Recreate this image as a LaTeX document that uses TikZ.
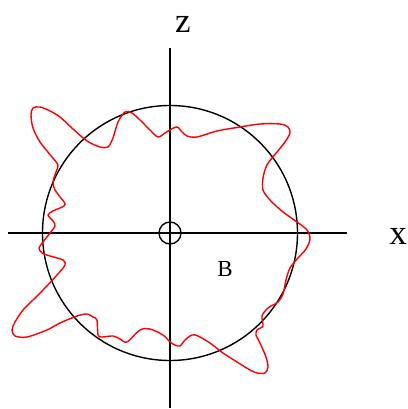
\documentclass[tikz,border=0pt]{standalone}
\usepackage{fontspec}
\setmainfont{Liberation Serif}
\begin{document}
\begin{tikzpicture}[x=1pt,y=-1pt,
  axis/.style={line width=1.4pt,black},
  ring/.style={circle,draw=black,line width=1.4pt,inner sep=0pt},
  curve/.style={red,line width=1.4pt,line join=round},
  biglabel/.style={inner sep=0pt,font=\fontsize{35}{37}\selectfont},
  smalllabel/.style={inner sep=0pt,font=\fontsize{23}{26}\selectfont}]
\useasboundingbox (0,0) rectangle (407,409);
\coordinate (xl) at (8,233);
\coordinate (xr) at (347,233);
\coordinate (zt) at (170,48);
\coordinate (zb) at (170,408);
\node[ring,minimum size=255pt] (big) at (170,233) {};
\node[ring,minimum size=22pt] (origin) at (170,233) {};
\draw[axis] (xl) -- (xr);
\draw[axis] (zt) -- (zb);
\node[biglabel] (zlab) at (183,24) {z};
\node[biglabel] (xlab) at (398,236) {x};
\node[smalllabel] (blab) at (225,269) {B};
\draw[curve] plot[smooth cycle,tension=0.5] coordinates {
(170,130) (177,127) (182,132) (187,136) (197,137) (217,131) (240,127) (260,124)
(280,124) (288,127) (290,133) (285,142) (277,152) (267,165) (263,178) (263,190)
(270,200) (283,212) (297,222) (307,230) (310,239) (306,249) (298,258) (290,268)
(286,280) (283,294) (278,302) (268,308) (262,316) (263,326) (257,330) (256,335)
(260,343) (266,357) (268,367) (265,373) (257,373) (250,370) (237,362) (223,353)
(210,343) (198,336) (192,335) (185,340) (180,346) (175,345) (170,342) (163,335)
(150,329) (140,330) (127,342) (120,339) (113,336) (102,337) (98,335) (97,320)
(93,317) (87,314) (77,316) (60,323) (47,330) (27,337) (15,336) (12,330)
(15,322) (23,310) (33,300) (43,290) (57,275) (65,265) (63,260) (50,256)
(42,253) (39,248) (43,242) (50,233) (55,226) (53,221) (48,215) (53,211)
(65,205) (60,197) (55,190) (53,182) (56,172) (58,165) (52,157) (40,142)
(33,128) (31,115) (33,108) (40,107) (50,111) (60,117) (73,129) (87,141)
(100,147) (108,147) (113,138) (118,122) (125,112) (132,113) (140,120) (150,130)
(158,137) (165,133)};
\end{tikzpicture}
\end{document}
